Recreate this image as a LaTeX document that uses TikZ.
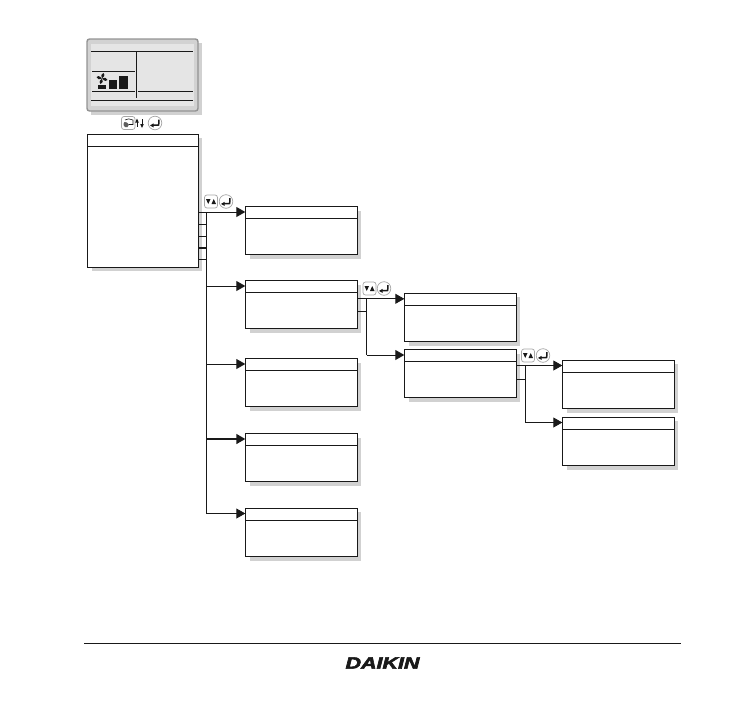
\documentclass[tikz,border=0pt]{standalone}
\usepackage{fontspec}
\setmainfont{Liberation Sans}
\newfontfamily\logofont[BoldItalicFeatures={FakeBold=3}]{Liberation Sans}
\usetikzlibrary{arrows.meta,calc}
\definecolor{shade}{gray}{0.82}
\definecolor{ink}{gray}{0.1}
\tikzset{
  shadowbox/.style={fill=shade,draw=none,anchor=north west,inner sep=0pt,outer sep=0pt},
  menubox/.style={draw=ink,line width=0.9pt,fill=white,anchor=north west,inner sep=0pt,outer sep=0pt,minimum width=112pt,minimum height=48pt},
  conn/.style={draw=ink,line width=0.9pt},
  heavy/.style={draw=ink,line width=1.5pt},
  arr/.style={conn,-{Triangle[length=9pt,width=10pt]}},
  keycap/.style={draw=gray!70,line width=0.7pt,fill=white,rounded corners=2.5pt},
  keyround/.style={draw=gray!70,line width=0.7pt,fill=white},
  glyph/.style={fill=ink,draw=none},
  lcdline/.style={draw=ink,line width=0.8pt}
}
% name, x, y (top left); header rule 12 below top; shadow behind
\newcommand{\menubx}[3]{%
  \node[shadowbox,minimum width=110.5pt,minimum height=48.5pt] (#1-sh) at (#2+5,#3+4) {};
  \node[menubox] (#1) at (#2,#3) {};
  \draw[conn] ($(#1.north west)+(0,12)$) -- ($(#1.north east)+(0,12)$);
  \coordinate (#1-in) at ($(#1.north west)+(0,5.5)$);
}
% down/up key at x,y
\newcommand{\updown}[2]{%
  \draw[keycap] (#1-6.5,#2-6.5) rectangle (#1+6.5,#2+6.5);
  \fill[glyph] (#1-5,#2-2.5) -- (#1-0.5,#2-2.5) -- (#1-2.75,#2+2.5) -- cycle;
  \fill[glyph] (#1+0.5,#2+2.5) -- (#1+5,#2+2.5) -- (#1+2.75,#2-2.5) -- cycle;
}
\newcommand{\enterkey}[2]{%
  \draw[keyround] (#1,#2) circle (6.8pt);
  \draw[ink,line width=1.5pt] (#1+3.8,#2-3.5) -- (#1+3.8,#2+0.5) .. controls (#1+3.8,#2+2.2) .. (#1+2,#2+2.2) -- (#1-2,#2+2.2);
  \fill[glyph] (#1-5,#2+2.4) -- (#1-1.5,#2+0.4) -- (#1-1.5,#2+4.4) -- cycle;
}
\begin{document}
\begin{tikzpicture}[x=1pt,y=-1pt]
\useasboundingbox (0,0) rectangle (736,726);
% LCD panel
\node[shadowbox,minimum width=111pt,minimum height=72pt] (lcdsh) at (90.5,42.5) {};
\node[draw=gray!85,line width=1.4pt,fill=gray!35,rounded corners=2.5pt,anchor=north west,inner sep=0pt,outer sep=0pt,minimum width=111pt,minimum height=72pt] (lcd) at (87,39) {};
\node[fill=gray!20,draw=none,anchor=north west,inner sep=0pt,outer sep=0pt,minimum width=103pt,minimum height=62pt] (lcdin) at (91,44) {};
\draw[lcdline] (91,51) -- (193,51);
\draw[lcdline] (136.5,51) -- (136.5,98);
\draw[lcdline] (92,71.5) -- (135,71.5);
\draw[lcdline] (92,91) -- (135,91);
\draw[lcdline] (138,91) -- (193,91);
\draw[lcdline] (91,100) -- (193,100);
% fan icon
\begin{scope}[shift={(102,78.5)}]
  \foreach \a in {0,90,180,270}
    \fill[ink,rotate=\a] (0,0) .. controls (-1.5,-2) and (-1,-5) .. (1.5,-5.5) .. controls (3,-5) and (3,-2.5) .. (0,0) -- cycle;
\end{scope}
\fill[ink] (98,85) rectangle (106,89);
\fill[ink] (109,80) rectangle (117,89);
\fill[ink] (119,76) rectangle (128,89);
% keys between LCD and menu
\draw[keycap] (121.5,116.5) rectangle (135,129.5);
\fill[ink!70] (123.5,125) .. controls (123.5,122) and (125,121) .. (127,122.5) -- (129,124.5) -- (127.5,127) -- (125,127) -- cycle;
\draw[ink,line width=0.6pt] (125,120) .. controls (127,118.5) and (130,118.5) .. (133,120) -- (133,124.5) -- (129,124.5);
\draw[ink,line width=0.8pt] (137,120) -- (137,127);
\fill[glyph] (135.2,122.5) -- (138.8,122.5) -- (137,118.5) -- cycle;
\draw[ink,line width=0.8pt] (142,119) -- (142,126);
\fill[glyph] (140.2,124) -- (143.8,124) -- (142,128) -- cycle;
\enterkey{155}{123}
% main menu
\node[shadowbox,minimum width=110pt,minimum height=133pt] (mainsh) at (92,138) {};
\node[menubox,minimum width=111pt,minimum height=133pt] (main) at (87,134) {};
\draw[conn] ($(main.north west)+(0,12)$) -- ($(main.north east)+(0,12)$);
% sub menus
\menubx{boxa}{245.3}{206.5}
\menubx{boxb}{245.3}{280.5}
\menubx{boxc}{245.3}{358.5}
\menubx{boxd}{245.3}{433.5}
\menubx{boxe}{245.3}{508}
\menubx{boxf}{404.3}{293.3}
\menubx{boxg}{404.3}{349.5}
\menubx{boxh}{562.3}{360}
\menubx{boxi}{562.3}{417}
% first tree
\coordinate (spine) at (206.5,0);
\draw[arr] (main.east |- boxa-in) -- (boxa-in);
\draw[conn] (spine |- boxa-in) -- (spine |- boxe-in);
\draw[conn] (main.east |- 0,224.5) -- (206.5,224.5);
\draw[conn] (main.east |- 0,236) -- (206.5,236);
\draw[heavy] (main.east |- 0,248) -- (206.5,248);
\draw[conn] (main.east |- 0,259.5) -- (206.5,259.5);
\draw[arr] (spine |- boxb-in) -- (boxb-in);
\draw[arr] (spine |- boxc-in) -- (boxc-in);
\draw[arr,line width=1.4pt] (spine |- boxd-in) -- (boxd-in);
\draw[arr] (spine |- boxe-in) -- (boxe-in);
% second tree
\coordinate (spinb) at (366.5,0);
\draw[arr] (boxb.east |- boxf-in) -- (boxf-in);
\draw[conn] (spinb |- boxf-in) -- (spinb |- boxg-in);
\draw[conn] (boxb.east |- 0,311) -- (366.5,311);
\draw[arr] (spinb |- boxg-in) -- (boxg-in);
% third tree
\coordinate (spinc) at (525.5,0);
\draw[arr] (boxg.east |- boxh-in) -- (boxh-in);
\draw[conn] (spinc |- boxh-in) -- (spinc |- boxi-in);
\draw[conn] (boxg.east |- 0,379) -- (525.5,379);
\draw[arr] (spinc |- boxi-in) -- (boxi-in);
% key pairs
\updown{211}{201.5}
\enterkey{226}{201.5}
\updown{369.5}{288.5}
\enterkey{384}{288.5}
\updown{528}{355.5}
\enterkey{543}{355.5}
% footer
\coordinate (fl) at (84,643);
\coordinate (fr) at (680.5,643);
\draw[ink,line width=0.9pt] (fl) -- (fr);
\node[inner sep=0pt,text=ink,font=\logofont\bfseries\itshape\fontsize{16.5}{16.5}\selectfont,xscale=1.3] (logo) at (382.5,663) {DAIKIN};
\end{tikzpicture}
\end{document}
